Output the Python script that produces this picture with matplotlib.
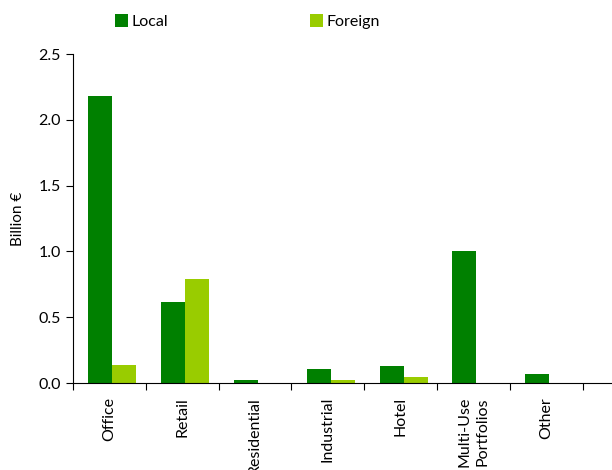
import matplotlib.pyplot as plt
import numpy as np

categories = ['Office', 'Retail', 'Residential', 'Industrial', 'Hotel', 'Multi-Use\nPortfolios', 'Other']
local = [2.18, 0.615, 0.025, 0.105, 0.13, 1.0, 0.07]
foreign = [0.14, 0.79, 0.0, 0.025, 0.045, 0.0, 0.0]

plt.rcParams['font.family'] = ['Lato', 'DejaVu Sans']

fig = plt.figure(figsize=(6.12, 4.7), dpi=100)
ax = fig.add_axes([0.119, 0.185, 0.881, 0.70])

x = np.arange(len(categories))
w = 0.33
ax.bar(x - w/2 + 0.04, local, w, color='#008000', label='Local')
ax.bar(x + w/2 + 0.04, foreign, w, color='#99cc00', label='Foreign')

ax.set_ylim(0, 2.5)
ax.set_yticks([0, 0.5, 1.0, 1.5, 2.0, 2.5])
ax.set_yticklabels(['0.0', '0.5', '1.0', '1.5', '2.0', '2.5'], fontsize=11.5)
ax.set_xlim(-0.5, 6.9)
# ticks between the groups, labels at the centres
ax.set_xticks(np.arange(-0.5, 7, 1.0))
ax.set_xticklabels([])
ax.set_xticks(x, minor=True)
ax.set_xticklabels(categories, minor=True, rotation=90, fontsize=11.5, va='top', ha='center',
                   linespacing=1.4)
ax.tick_params(axis='x', which='minor', length=0, pad=10)
ax.tick_params(axis='x', which='major', length=5, direction='out')
ax.tick_params(axis='y', length=5, direction='out')
ax.spines['top'].set_visible(False)
ax.spines['right'].set_visible(False)
ax.set_ylabel('Billion €', fontsize=11, labelpad=10)

fig.legend(loc='upper left', bbox_to_anchor=(0.165, 1.0), ncol=2, frameon=False,
           fontsize=11.5, handlelength=0.8, handleheight=0.8, handletextpad=0.2,
           columnspacing=8.9)

fig.savefig('out.png', dpi=100)
